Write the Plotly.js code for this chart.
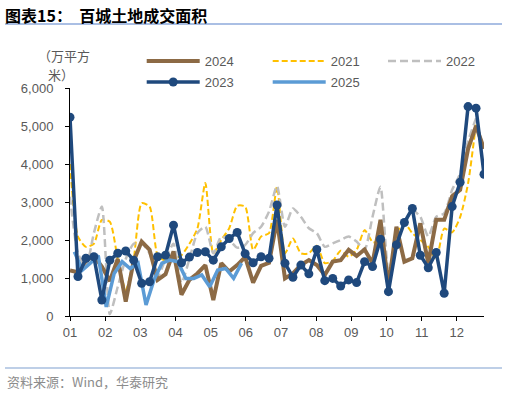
<!DOCTYPE html>
<html>
<head>
<meta charset="utf-8">
<script src="https://cdn.plot.ly/plotly-3.0.1.min.js"></script>
<style>html,body{margin:0;padding:0;background:#fff;}#chart{width:506px;height:393px;}</style>
</head>
<body>
<div id="chart"></div>
<script>
// Month tick labels
const monthLabels = ['01','02','03','04','05','06','07','08','09','10','11','12'];
// Weekly land transaction area, 10k sqm
const y2021 = [4000,2090,1820,1900,2530,2480,1500,680,1500,2970,2880,1600,1450,1500,1600,1900,2300,3500,1650,2000,2310,2900,2880,1740,2090,2180,3400,1650,2040,1650,1650,1850,1390,1450,1720,1560,1740,2260,1950,1910,860,2180,2440,2180,2000,1820,1500,2300,2200,2600,3490,5070];
const y2022 = [3140,1650,1300,2180,2880,50,770,1500,1900,1910,1650,1030,1500,1900,870,1500,2180,2350,1650,2090,2000,1800,1870,2180,2350,2750,3420,2350,2830,2610,2310,2180,1820,1910,2000,2090,1960,1740,2610,3400,1210,1900,2440,2790,2610,2090,2610,2700,3320,3750,4600,5200];
const y2024 = [1200,1150,1450,1580,1300,920,1500,380,1450,1960,1740,950,1100,1700,560,950,1120,1340,420,1390,1170,1340,1550,880,1320,1400,2530,990,1120,1340,1470,1340,1080,1430,1470,1740,1580,1750,1390,2530,770,2350,1430,1520,2440,1390,2530,2530,3150,3320,4400,5000,4400];
const y2025 = [1690,1210,1390,1590,240,1120,1430,1250,1390,290,950,1390,1470,1430,990,990,1080,770,1210,1250,990,1390];
const y2023 = [5230,1040,1520,1560,420,1470,1650,1710,1470,860,900,1560,1600,2390,1400,1550,1670,1690,1470,1820,2040,2200,1640,1400,1560,1520,2920,1390,1020,1340,1110,1750,930,990,790,950,880,1430,1300,2020,640,1870,2460,2830,1600,1270,1670,600,2880,3520,5510,5470,3730];
const offset2025 = 0.55; // 2025 weekly dates fall ~half a week later

const wk = arr => arr.map((_, i) => i);

const traces = [
  {name:'2021', x: wk(y2021), y: y2021, type:'scatter', mode:'lines', legend:'legend', legendrank:2,
   line:{color:'#ffc000', width:2, dash:'6px,3px', shape:'spline', smoothing:0.6}},
  {name:'2022', x: wk(y2022), y: y2022, type:'scatter', mode:'lines', legend:'legend3', legendrank:1,
   line:{color:'#bfbfbf', width:2.5, dash:'8px,4px', shape:'spline', smoothing:0.6}},
  {name:'2024', x: wk(y2024), y: y2024, type:'scatter', mode:'lines', legend:'legend', legendrank:1,
   line:{color:'#8c6a45', width:4}},
  {name:'2025', x: y2025.map((_, i) => i + offset2025), y: y2025, type:'scatter', mode:'lines', legend:'legend2', legendrank:2,
   line:{color:'#5b9bd5', width:3.5}},
  {name:'2023', x: wk(y2023), y: y2023, type:'scatter', mode:'lines+markers', legend:'legend2', legendrank:1,
   line:{color:'#1f497d', width:3.5}, marker:{color:'#1f497d', size:9}}
];

const L = 70, R = 22, T = 88, B = 77, W = 506, H = 393;
const pw = W - L - R, ph = H - T - B;
const px = X => (X - L) / pw;
const py = Y => (H - B - Y) / ph;

const legendCommon = {orientation:'h', xanchor:'left', yanchor:'middle', itemwidth:53,
  entrywidth:58, entrywidthmode:'pixels', bgcolor:'rgba(0,0,0,0)', tracegroupgap:0,
  font:{family:'Liberation Sans, Arial, sans-serif', size:13, color:'#595959'}};

const unitFont = {family:'Noto Sans CJK SC, sans-serif', size:13, color:'#595959'};

const layout = {
  width: W, height: H,
  margin:{l:L, r:R, t:T, b:B, pad:0, autoexpand:false},
  paper_bgcolor:'#fff', plot_bgcolor:'#fff',
  font:{family:'Liberation Sans, Arial, Noto Sans CJK SC, sans-serif', size:13, color:'#595959'},
  title:{text:'<b>图表15：\u00a0\u00a0百城土地成交面积</b>', xref:'container', x:5/W, xanchor:'left',
         yref:'container', y:1-16/H, yanchor:'middle',
         font:{family:'Noto Sans CJK SC, sans-serif', size:16, color:'#000'}},
  showlegend:true,
  legend: Object.assign({}, legendCommon, {x:px(141.7), y:py(61)}),
  legend2: Object.assign({}, legendCommon, {x:px(141.7), y:py(82)}),
  legend3: Object.assign({}, legendCommon, {x:px(383), y:py(61)}),
  xaxis:{range:[0,52], tickvals: monthLabels.map((_, i) => i*53/12), ticktext: monthLabels,
         ticks:'outside', ticklen:4, tickcolor:'#000', tickwidth:1,
         showline:true, linecolor:'#000', linewidth:1, showgrid:false, zeroline:false,
         tickfont:{family:'Liberation Sans, Arial, sans-serif', size:13, color:'#595959'}, fixedrange:true},
  yaxis:{range:[0,6000], dtick:1000, tickformat:',d', ticks:'outside', ticklen:4, tickcolor:'#000',
         showline:true, linecolor:'#000', linewidth:1, showgrid:false, zeroline:false, ticklabelstandoff:9,
         tickfont:{family:'Liberation Sans, Arial, sans-serif', size:13, color:'#595959'}, fixedrange:true},
  shapes:[
    {type:'line', xref:'paper', yref:'paper', x0:px(5), x1:px(502), y0:py(24), y1:py(24), line:{color:'#8eaadb', width:1.5}},
    {type:'line', xref:'paper', yref:'paper', x0:px(5), x1:px(502), y0:py(368), y1:py(368), line:{color:'#7f9fd0', width:1.2}}
  ],
  annotations:[
    {text:'（万平方', xref:'paper', yref:'paper', x:px(64), y:py(55), xanchor:'center', yanchor:'middle',
     showarrow:false, font:unitFont},
    {text:'米）', xref:'paper', yref:'paper', x:px(61), y:py(74), xanchor:'center', yanchor:'middle',
     showarrow:false, font:unitFont},
    {text:'资料来源：Wind，华泰研究', xref:'paper', yref:'paper', x:px(5), y:py(381), xanchor:'left', yanchor:'middle',
     showarrow:false, font:{family:'Noto Sans CJK SC, sans-serif', size:13, color:'#8c8c8c'}}
  ]
};

Plotly.newPlot('chart', traces, layout, {displayModeBar:false, staticPlot:true});
</script>
</body>
</html>
